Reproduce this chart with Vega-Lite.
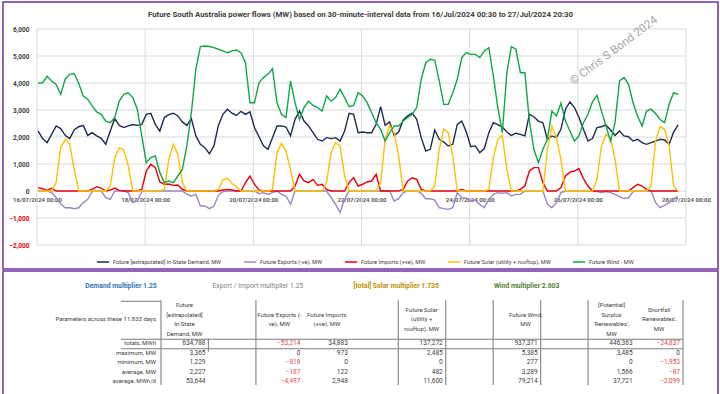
{
  "$schema": "https://vega.github.io/schema/vega-lite/v6.json",
  "padding": {"left": 2, "top": 1, "right": 0, "bottom": 0},
  "background": "white",
  "columns": 1,
  "spacing": 0,
  "config": {"font": "Roboto", "view": {"stroke": null}, "axis": {"grid": false}},
  "datasets": {
    "flows": [
      {"t":"2024-07-16T00:30","d":2220,"e":0,"i":125,"s":0,"w":4000},
      {"t":"2024-07-16T02:30","d":1940,"e":0,"i":85,"s":0,"w":4010},
      {"t":"2024-07-16T04:30","d":1790,"e":0,"i":25,"s":0,"w":4250},
      {"t":"2024-07-16T06:30","d":2100,"e":-60,"i":100,"s":0,"w":4075},
      {"t":"2024-07-16T08:30","d":2410,"e":-250,"i":0,"s":310,"w":3950},
      {"t":"2024-07-16T10:30","d":2310,"e":-470,"i":0,"s":1600,"w":3580},
      {"t":"2024-07-16T12:30","d":2060,"e":-620,"i":0,"s":1915,"w":4140},
      {"t":"2024-07-16T14:30","d":1940,"e":-620,"i":0,"s":1730,"w":4320},
      {"t":"2024-07-16T16:30","d":2260,"e":-655,"i":0,"s":800,"w":4350},
      {"t":"2024-07-16T18:30","d":2380,"e":-620,"i":0,"s":0,"w":3990},
      {"t":"2024-07-16T20:30","d":2430,"e":-430,"i":0,"s":0,"w":3520},
      {"t":"2024-07-16T22:30","d":2060,"e":-310,"i":0,"s":0,"w":3400},
      {"t":"2024-07-17T00:30","d":2160,"e":-25,"i":60,"s":0,"w":3150},
      {"t":"2024-07-17T02:30","d":2040,"e":0,"i":160,"s":0,"w":2930},
      {"t":"2024-07-17T04:30","d":1950,"e":0,"i":110,"s":0,"w":2840},
      {"t":"2024-07-17T06:30","d":1730,"e":-250,"i":0,"s":0,"w":2590},
      {"t":"2024-07-17T08:30","d":2220,"e":-310,"i":35,"s":185,"w":2530},
      {"t":"2024-07-17T10:30","d":2680,"e":0,"i":110,"s":1235,"w":2720},
      {"t":"2024-07-17T12:30","d":2430,"e":0,"i":25,"s":1605,"w":3330},
      {"t":"2024-07-17T14:30","d":2350,"e":0,"i":0,"s":1520,"w":3580},
      {"t":"2024-07-17T16:30","d":2410,"e":-60,"i":0,"s":925,"w":3640},
      {"t":"2024-07-17T18:30","d":2460,"e":-430,"i":0,"s":0,"w":3460},
      {"t":"2024-07-17T20:30","d":2430,"e":-370,"i":0,"s":0,"w":3030},
      {"t":"2024-07-17T22:30","d":2470,"e":-25,"i":60,"s":0,"w":2040},
      {"t":"2024-07-18T00:30","d":2840,"e":0,"i":740,"s":0,"w":1050},
      {"t":"2024-07-18T02:30","d":2880,"e":0,"i":990,"s":0,"w":1235},
      {"t":"2024-07-18T04:30","d":2470,"e":0,"i":865,"s":0,"w":1300},
      {"t":"2024-07-18T06:30","d":2220,"e":0,"i":335,"s":0,"w":680},
      {"t":"2024-07-18T08:30","d":2720,"e":0,"i":250,"s":60,"w":310},
      {"t":"2024-07-18T10:30","d":2830,"e":0,"i":260,"s":1170,"w":370},
      {"t":"2024-07-18T12:30","d":2880,"e":0,"i":210,"s":1730,"w":310},
      {"t":"2024-07-18T14:30","d":2780,"e":0,"i":220,"s":1360,"w":555},
      {"t":"2024-07-18T16:30","d":2560,"e":0,"i":60,"s":310,"w":800},
      {"t":"2024-07-18T18:30","d":2430,"e":-125,"i":0,"s":0,"w":1670},
      {"t":"2024-07-18T20:30","d":2680,"e":-185,"i":0,"s":0,"w":2900},
      {"t":"2024-07-18T22:30","d":2040,"e":-125,"i":0,"s":0,"w":4510},
      {"t":"2024-07-19T00:30","d":1730,"e":-555,"i":0,"s":0,"w":5350},
      {"t":"2024-07-19T02:30","d":1605,"e":-555,"i":0,"s":0,"w":5370},
      {"t":"2024-07-19T04:30","d":1380,"e":-655,"i":0,"s":0,"w":5350},
      {"t":"2024-07-19T06:30","d":1670,"e":-555,"i":0,"s":0,"w":5310},
      {"t":"2024-07-19T08:30","d":2430,"e":-160,"i":0,"s":60,"w":5250},
      {"t":"2024-07-19T10:30","d":2840,"e":-25,"i":35,"s":410,"w":5190},
      {"t":"2024-07-19T12:30","d":3030,"e":0,"i":60,"s":470,"w":5125},
      {"t":"2024-07-19T14:30","d":2880,"e":0,"i":35,"s":285,"w":5190},
      {"t":"2024-07-19T16:30","d":2800,"e":0,"i":0,"s":160,"w":5220},
      {"t":"2024-07-19T18:30","d":2950,"e":0,"i":0,"s":0,"w":5125},
      {"t":"2024-07-19T20:30","d":2840,"e":0,"i":310,"s":0,"w":4750},
      {"t":"2024-07-19T22:30","d":2930,"e":0,"i":555,"s":0,"w":3270},
      {"t":"2024-07-20T00:30","d":2350,"e":0,"i":250,"s":0,"w":3270},
      {"t":"2024-07-20T02:30","d":2010,"e":-100,"i":35,"s":0,"w":4010},
      {"t":"2024-07-20T04:30","d":1670,"e":-60,"i":0,"s":0,"w":4200},
      {"t":"2024-07-20T06:30","d":1545,"e":-125,"i":0,"s":0,"w":4320},
      {"t":"2024-07-20T08:30","d":1975,"e":-60,"i":0,"s":60,"w":4530},
      {"t":"2024-07-20T10:30","d":2410,"e":0,"i":0,"s":1420,"w":3270},
      {"t":"2024-07-20T12:30","d":2410,"e":-125,"i":0,"s":1765,"w":2840},
      {"t":"2024-07-20T14:30","d":2370,"e":-185,"i":0,"s":1480,"w":2720},
      {"t":"2024-07-20T16:30","d":2040,"e":-495,"i":0,"s":800,"w":4075},
      {"t":"2024-07-20T18:30","d":2655,"e":0,"i":185,"s":0,"w":3270},
      {"t":"2024-07-20T20:30","d":2960,"e":0,"i":620,"s":0,"w":2650},
      {"t":"2024-07-20T22:30","d":2590,"e":0,"i":370,"s":0,"w":3090},
      {"t":"2024-07-21T00:30","d":2410,"e":0,"i":310,"s":0,"w":3330},
      {"t":"2024-07-21T02:30","d":2160,"e":0,"i":430,"s":0,"w":3170},
      {"t":"2024-07-21T04:30","d":1915,"e":0,"i":210,"s":0,"w":3090},
      {"t":"2024-07-21T06:30","d":1850,"e":0,"i":250,"s":0,"w":2960},
      {"t":"2024-07-21T08:30","d":1975,"e":0,"i":60,"s":310,"w":3520},
      {"t":"2024-07-21T10:30","d":1940,"e":-250,"i":0,"s":1420,"w":3330},
      {"t":"2024-07-21T12:30","d":1975,"e":-495,"i":0,"s":1790,"w":3460},
      {"t":"2024-07-21T14:30","d":1850,"e":-800,"i":0,"s":1670,"w":3770},
      {"t":"2024-07-21T16:30","d":2220,"e":-310,"i":0,"s":555,"w":3460},
      {"t":"2024-07-21T18:30","d":2880,"e":0,"i":310,"s":0,"w":3120},
      {"t":"2024-07-21T20:30","d":2840,"e":0,"i":490,"s":0,"w":3170},
      {"t":"2024-07-21T22:30","d":2160,"e":0,"i":185,"s":0,"w":3640},
      {"t":"2024-07-22T00:30","d":2185,"e":0,"i":250,"s":0,"w":3520},
      {"t":"2024-07-22T02:30","d":2160,"e":0,"i":335,"s":0,"w":3270},
      {"t":"2024-07-22T04:30","d":2160,"e":0,"i":370,"s":0,"w":2900},
      {"t":"2024-07-22T06:30","d":2470,"e":0,"i":620,"s":0,"w":2530},
      {"t":"2024-07-22T08:30","d":3125,"e":0,"i":0,"s":310,"w":2280},
      {"t":"2024-07-22T10:30","d":2430,"e":0,"i":0,"s":1915,"w":1850},
      {"t":"2024-07-22T12:30","d":2560,"e":0,"i":0,"s":2430,"w":2160},
      {"t":"2024-07-22T14:30","d":2060,"e":-370,"i":0,"s":2160,"w":2410},
      {"t":"2024-07-22T16:30","d":2185,"e":-285,"i":0,"s":1300,"w":2410},
      {"t":"2024-07-22T18:30","d":2630,"e":-60,"i":60,"s":0,"w":2590},
      {"t":"2024-07-22T20:30","d":2780,"e":0,"i":370,"s":0,"w":2720},
      {"t":"2024-07-22T22:30","d":2880,"e":0,"i":490,"s":0,"w":2840},
      {"t":"2024-07-23T00:30","d":2655,"e":0,"i":430,"s":0,"w":3090},
      {"t":"2024-07-23T02:30","d":1975,"e":-85,"i":60,"s":0,"w":4140},
      {"t":"2024-07-23T04:30","d":1480,"e":-285,"i":0,"s":0,"w":4750},
      {"t":"2024-07-23T06:30","d":1545,"e":-285,"i":0,"s":0,"w":4880},
      {"t":"2024-07-23T08:30","d":2260,"e":-335,"i":0,"s":185,"w":4850},
      {"t":"2024-07-23T10:30","d":1915,"e":-620,"i":0,"s":1545,"w":4075},
      {"t":"2024-07-23T12:30","d":1815,"e":-655,"i":0,"s":2285,"w":3210},
      {"t":"2024-07-23T14:30","d":1670,"e":-680,"i":0,"s":2160,"w":3210},
      {"t":"2024-07-23T16:30","d":1730,"e":-620,"i":0,"s":1300,"w":3640},
      {"t":"2024-07-23T18:30","d":2470,"e":-60,"i":0,"s":0,"w":4140},
      {"t":"2024-07-23T20:30","d":2590,"e":-250,"i":60,"s":0,"w":4940},
      {"t":"2024-07-23T22:30","d":2185,"e":-270,"i":0,"s":0,"w":5125},
      {"t":"2024-07-24T00:30","d":1640,"e":-370,"i":0,"s":0,"w":5060},
      {"t":"2024-07-24T02:30","d":1670,"e":-335,"i":0,"s":0,"w":5060},
      {"t":"2024-07-24T04:30","d":1420,"e":-495,"i":0,"s":0,"w":4940},
      {"t":"2024-07-24T06:30","d":1570,"e":-620,"i":0,"s":0,"w":5190},
      {"t":"2024-07-24T08:30","d":2160,"e":-310,"i":0,"s":60,"w":5310},
      {"t":"2024-07-24T10:30","d":2530,"e":-125,"i":0,"s":1235,"w":4260},
      {"t":"2024-07-24T12:30","d":2460,"e":-60,"i":0,"s":1915,"w":3090},
      {"t":"2024-07-24T14:30","d":2370,"e":-85,"i":0,"s":2060,"w":2160},
      {"t":"2024-07-24T16:30","d":2185,"e":-60,"i":0,"s":800,"w":4380},
      {"t":"2024-07-24T18:30","d":2060,"e":-185,"i":0,"s":0,"w":5350},
      {"t":"2024-07-24T20:30","d":2140,"e":-125,"i":0,"s":0,"w":5250},
      {"t":"2024-07-24T22:30","d":2100,"e":-125,"i":60,"s":0,"w":4380},
      {"t":"2024-07-25T00:30","d":2040,"e":0,"i":185,"s":0,"w":4380},
      {"t":"2024-07-25T02:30","d":2840,"e":0,"i":740,"s":0,"w":2590},
      {"t":"2024-07-25T04:30","d":2750,"e":0,"i":865,"s":0,"w":1545},
      {"t":"2024-07-25T06:30","d":2590,"e":0,"i":865,"s":0,"w":1050},
      {"t":"2024-07-25T08:30","d":2530,"e":0,"i":310,"s":0,"w":1545},
      {"t":"2024-07-25T10:30","d":1915,"e":-495,"i":0,"s":1545,"w":1915},
      {"t":"2024-07-25T12:30","d":2040,"e":-620,"i":0,"s":2410,"w":2960},
      {"t":"2024-07-25T14:30","d":1975,"e":-430,"i":0,"s":1975,"w":2780},
      {"t":"2024-07-25T16:30","d":2285,"e":-60,"i":125,"s":1170,"w":3250},
      {"t":"2024-07-25T18:30","d":3030,"e":0,"i":555,"s":0,"w":2590},
      {"t":"2024-07-25T20:30","d":3300,"e":0,"i":700,"s":0,"w":2220},
      {"t":"2024-07-25T22:30","d":3090,"e":0,"i":740,"s":0,"w":1850},
      {"t":"2024-07-26T00:30","d":2720,"e":0,"i":830,"s":0,"w":2040},
      {"t":"2024-07-26T02:30","d":2285,"e":0,"i":460,"s":0,"w":2530},
      {"t":"2024-07-26T04:30","d":1850,"e":0,"i":185,"s":0,"w":2840},
      {"t":"2024-07-26T06:30","d":1940,"e":0,"i":0,"s":0,"w":3300},
      {"t":"2024-07-26T08:30","d":2350,"e":-25,"i":0,"s":430,"w":3540},
      {"t":"2024-07-26T10:30","d":2380,"e":-60,"i":0,"s":1670,"w":2960},
      {"t":"2024-07-26T12:30","d":2445,"e":-25,"i":0,"s":2100,"w":2410},
      {"t":"2024-07-26T14:30","d":2260,"e":-60,"i":0,"s":1975,"w":1850},
      {"t":"2024-07-26T16:30","d":2060,"e":-125,"i":0,"s":1170,"w":2530},
      {"t":"2024-07-26T18:30","d":2220,"e":-220,"i":0,"s":0,"w":4075},
      {"t":"2024-07-26T20:30","d":2040,"e":-280,"i":0,"s":0,"w":4200},
      {"t":"2024-07-26T22:30","d":2010,"e":-250,"i":0,"s":0,"w":3950},
      {"t":"2024-07-27T00:30","d":1850,"e":-25,"i":125,"s":0,"w":3270},
      {"t":"2024-07-27T02:30","d":1915,"e":0,"i":250,"s":0,"w":2780},
      {"t":"2024-07-27T04:30","d":1790,"e":0,"i":185,"s":0,"w":2410},
      {"t":"2024-07-27T06:30","d":1730,"e":0,"i":60,"s":0,"w":2960},
      {"t":"2024-07-27T08:30","d":1790,"e":0,"i":0,"s":185,"w":3030},
      {"t":"2024-07-27T10:30","d":1850,"e":-430,"i":0,"s":1850,"w":2870},
      {"t":"2024-07-27T12:30","d":1915,"e":-620,"i":0,"s":2385,"w":2650},
      {"t":"2024-07-27T14:30","d":1890,"e":-530,"i":0,"s":2285,"w":2530},
      {"t":"2024-07-27T16:30","d":1730,"e":-430,"i":0,"s":1670,"w":3210},
      {"t":"2024-07-27T18:30","d":2185,"e":-285,"i":0,"s":185,"w":3640},
      {"t":"2024-07-27T20:30","d":2445,"e":-210,"i":0,"s":0,"w":3580}
    ],
    "ygrid": [{"g":-2000},{"g":-1000},{"g":0},{"g":1000},{"g":2000},{"g":3000},{"g":4000},{"g":5000},{"g":6000}],
    "xgrid": [{"g":"2024-07-16T00:00"},{"g":"2024-07-18T00:00"},{"g":"2024-07-20T00:00"},{"g":"2024-07-22T00:00"},{"g":"2024-07-24T00:00"},{"g":"2024-07-26T00:00"},{"g":"2024-07-28T00:00"}],
    "cells": [
      {"c":"demand","r":"totals","v":634788},{"c":"demand","r":"maximum","v":3365},{"c":"demand","r":"minimum","v":1229},{"c":"demand","r":"avgMW","v":2227},{"c":"demand","r":"avgMWhd","v":53644},
      {"c":"exports","r":"totals","v":-53214},{"c":"exports","r":"maximum","v":0},{"c":"exports","r":"minimum","v":-818},{"c":"exports","r":"avgMW","v":-187},{"c":"exports","r":"avgMWhd","v":-4497},
      {"c":"imports","r":"totals","v":34883},{"c":"imports","r":"maximum","v":973},{"c":"imports","r":"minimum","v":0},{"c":"imports","r":"avgMW","v":122},{"c":"imports","r":"avgMWhd","v":2948},
      {"c":"solar","r":"totals","v":137272},{"c":"solar","r":"maximum","v":2485},{"c":"solar","r":"minimum","v":0},{"c":"solar","r":"avgMW","v":482},{"c":"solar","r":"avgMWhd","v":11600},
      {"c":"wind","r":"totals","v":937371},{"c":"wind","r":"maximum","v":5385},{"c":"wind","r":"minimum","v":277},{"c":"wind","r":"avgMW","v":3289},{"c":"wind","r":"avgMWhd","v":79214},
      {"c":"surplus","r":"totals","v":446363},{"c":"surplus","r":"maximum","v":3485},{"c":"surplus","r":"minimum","v":0},{"c":"surplus","r":"avgMW","v":1566},{"c":"surplus","r":"avgMWhd","v":37721},
      {"c":"shortfall","r":"totals","v":-24837},{"c":"shortfall","r":"maximum","v":0},{"c":"shortfall","r":"minimum","v":-1953},{"c":"shortfall","r":"avgMW","v":-87},{"c":"shortfall","r":"avgMWhd","v":-2099}
    ],
    "headers": [
      {"c":"demand","r":"L1","h":"Future"},
      {"c":"demand","r":"L3","h":"[extrapolated]"},
      {"c":"demand","r":"L5","h":"In-State"},
      {"c":"demand","r":"L7","h":"Demand, MW"},
      {"c":"exports","r":"L3","h":"Future Exports (-"},
      {"c":"exports","r":"L5","h":"ve), MW"},
      {"c":"imports","r":"L3","h":"Future Imports"},
      {"c":"imports","r":"L5","h":"(+ve), MW"},
      {"c":"solar","r":"L2","h":"Future Solar"},
      {"c":"solar","r":"L4","h":"(utility +"},
      {"c":"solar","r":"L6","h":"rooftop), MW"},
      {"c":"wind","r":"L3","h":"Future Wind,"},
      {"c":"wind","r":"L5","h":"MW"},
      {"c":"surplus","r":"L1","h":"[Potential]"},
      {"c":"surplus","r":"L3","h":"Surplus"},
      {"c":"surplus","r":"L5","h":"'Renewables',"},
      {"c":"surplus","r":"L7","h":"MW"},
      {"c":"shortfall","r":"L2","h":"Shortfall"},
      {"c":"shortfall","r":"L4","h":"'Renewables',"},
      {"c":"shortfall","r":"L6","h":"MW"}
    ],
    "rowlabels": [
      {"c":"label","r":"L4","h":"Parameters across these 11.833 days"},
      {"c":"label","r":"totals","h":"totals, MWh"},
      {"c":"label","r":"maximum","h":"maximum, MW"},
      {"c":"label","r":"minimum","h":"minimum, MW"},
      {"c":"label","r":"avgMW","h":"average, MW"},
      {"c":"label","r":"avgMWhd","h":"average, MWh/d"}
    ],
    "mults": [
      {"k":"demand","c":"label","r":"mult","h":"Demand multiplier 1.25"},
      {"k":"trade","c":"g1","r":"mult","h":"Export / Import multiplier 1.25"},
      {"k":"solar","c":"g2","r":"mult","h":"[total] Solar multiplier 1.735"},
      {"k":"wind","c":"wind","r":"mult","h":"Wind multiplier 2.603"}
    ],
    "vrules": [
      {"c":"label","top":"s3","bottom":"avgMWhd"},
      {"c":"demand","top":"s10","bottom":"s11"},
      {"c":"g1","top":"s3","bottom":"avgMWhd"},
      {"c":"g2","top":"s3","bottom":"avgMWhd"},
      {"c":"solar","top":"s3","bottom":"avgMWhd"},
      {"c":"g3","top":"s3","bottom":"avgMWhd"},
      {"c":"wind","top":"s3","bottom":"avgMWhd"},
      {"c":"g4","top":"s3","bottom":"avgMWhd"},
      {"c":"shortfall","top":"s3","bottom":"avgMWhd"}
    ],
    "hrules": [
      {"r":"s3","c1":"label","c2":"label"},
      {"r":"s10","c1":"label","c2":"shortfall"},
      {"r":"s11","c1":"label","c2":"shortfall"}
    ]
  },
  "concat": [
    {
      "width": 715,
      "height": 267,
      "title": {"text": "Future South Australia power flows (MW) based on 30-minute-interval data from 16/Jul/2024 00:30 to 27/Jul/2024 20:30", "fontSize": 7.8, "fontWeight": "bold", "color": "#404040", "offset": -17, "anchor": "middle"},
      "view": {"stroke": "#7030a0", "strokeWidth": 1.5},
      "layer": [
        {
          "data": {"name": "ygrid"},
          "mark": {"type": "rule", "color": "#d9d9d9", "strokeWidth": 1},
          "encoding": {
            "y": {"field": "g", "type": "quantitative",
              "scale": {"domain": [-2000, 6000], "range": [243, 27], "nice": false, "zero": false},
              "axis": {"values": [-2000, -1000, 0, 1000, 2000, 3000, 4000, 5000, 6000], "format": ",.0f", "labelFontSize": 6.5, "labelFontWeight": "bold", "labelColor": {"condition": {"test": "datum.value < 0", "value": "#e00000"}, "value": "#404040"}, "grid": false, "ticks": false, "domain": false, "labelPadding": 8, "offset": -34, "title": null}},
            "x": {"datum": {"year": 2024, "month": 7, "date": 16}, "type": "temporal",
              "scale": {"domain": [{"year": 2024, "month": 7, "date": 16}, {"year": 2024, "month": 7, "date": 28}], "range": [34, 683], "nice": false},
              "axis": {"values": [{"year": 2024, "month": 7, "date": 16}, {"year": 2024, "month": 7, "date": 18}, {"year": 2024, "month": 7, "date": 20}, {"year": 2024, "month": 7, "date": 22}, {"year": 2024, "month": 7, "date": 24}, {"year": 2024, "month": 7, "date": 26}, {"year": 2024, "month": 7, "date": 28}], "format": "%d/%m/%Y %H:%M", "labelFontSize": 6, "labelFontWeight": "bold", "labelColor": "#595959", "grid": false, "ticks": false, "domain": false, "offset": -78, "labelPadding": 5, "title": null, "labelOverlap": false, "labelFlush": false}},
            "x2": {"datum": {"year": 2024, "month": 7, "date": 28}}
          }
        },
        {
          "data": {"name": "xgrid"},
          "mark": {"type": "rule", "color": "#d9d9d9", "strokeWidth": 1},
          "encoding": {
            "x": {"field": "g", "type": "temporal",
              "scale": {"domain": [{"year": 2024, "month": 7, "date": 16}, {"year": 2024, "month": 7, "date": 28}], "range": [34, 683], "nice": false},
              "axis": {"values": [{"year": 2024, "month": 7, "date": 16}, {"year": 2024, "month": 7, "date": 18}, {"year": 2024, "month": 7, "date": 20}, {"year": 2024, "month": 7, "date": 22}, {"year": 2024, "month": 7, "date": 24}, {"year": 2024, "month": 7, "date": 26}, {"year": 2024, "month": 7, "date": 28}], "format": "%d/%m/%Y %H:%M", "labelFontSize": 6, "labelFontWeight": "bold", "labelColor": "#595959", "grid": false, "ticks": false, "domain": false, "offset": -78, "labelPadding": 5, "title": null, "labelOverlap": false, "labelFlush": false}},
            "y": {"datum": -2000, "type": "quantitative",
              "scale": {"domain": [-2000, 6000], "range": [243, 27], "nice": false, "zero": false},
              "axis": {"values": [-2000, -1000, 0, 1000, 2000, 3000, 4000, 5000, 6000], "format": ",.0f", "labelFontSize": 6.5, "labelFontWeight": "bold", "labelColor": {"condition": {"test": "datum.value < 0", "value": "#e00000"}, "value": "#404040"}, "grid": false, "ticks": false, "domain": false, "labelPadding": 8, "offset": -34, "title": null}},
            "y2": {"datum": 6000}
          }
        },
        {
          "data": {"values": [{}]},
          "mark": {"type": "text", "text": "© Chris S Bond  2024", "angle": -37, "fontSize": 11.5, "color": "#a6a6a6", "align": "center", "baseline": "middle"},
          "encoding": {
            "x": {"datum": {"year": 2024, "month": 7, "date": 26, "hours": 16}, "type": "temporal",
              "scale": {"domain": [{"year": 2024, "month": 7, "date": 16}, {"year": 2024, "month": 7, "date": 28}], "range": [34, 683], "nice": false},
              "axis": {"values": [{"year": 2024, "month": 7, "date": 16}, {"year": 2024, "month": 7, "date": 18}, {"year": 2024, "month": 7, "date": 20}, {"year": 2024, "month": 7, "date": 22}, {"year": 2024, "month": 7, "date": 24}, {"year": 2024, "month": 7, "date": 26}, {"year": 2024, "month": 7, "date": 28}], "format": "%d/%m/%Y %H:%M", "labelFontSize": 6, "labelFontWeight": "bold", "labelColor": "#595959", "grid": false, "ticks": false, "domain": false, "offset": -78, "labelPadding": 5, "title": null, "labelOverlap": false, "labelFlush": false}},
            "y": {"datum": 5185, "type": "quantitative",
              "scale": {"domain": [-2000, 6000], "range": [243, 27], "nice": false, "zero": false},
              "axis": {"values": [-2000, -1000, 0, 1000, 2000, 3000, 4000, 5000, 6000], "format": ",.0f", "labelFontSize": 6.5, "labelFontWeight": "bold", "labelColor": {"condition": {"test": "datum.value < 0", "value": "#e00000"}, "value": "#404040"}, "grid": false, "ticks": false, "domain": false, "labelPadding": 8, "offset": -34, "title": null}}
          }
        },
        {
          "data": {"name": "flows"},
          "transform": [{"fold": ["d", "e", "i", "s", "w"], "as": ["series", "mw"]}],
          "mark": {"type": "line", "strokeWidth": 1.4},
          "encoding": {
            "x": {"field": "t", "type": "temporal",
              "scale": {"domain": [{"year": 2024, "month": 7, "date": 16}, {"year": 2024, "month": 7, "date": 28}], "range": [34, 683], "nice": false},
              "axis": {"values": [{"year": 2024, "month": 7, "date": 16}, {"year": 2024, "month": 7, "date": 18}, {"year": 2024, "month": 7, "date": 20}, {"year": 2024, "month": 7, "date": 22}, {"year": 2024, "month": 7, "date": 24}, {"year": 2024, "month": 7, "date": 26}, {"year": 2024, "month": 7, "date": 28}], "format": "%d/%m/%Y %H:%M", "labelFontSize": 6, "labelFontWeight": "bold", "labelColor": "#595959", "grid": false, "ticks": false, "domain": false, "offset": -78, "labelPadding": 5, "title": null, "labelOverlap": false, "labelFlush": false}},
            "y": {"field": "mw", "type": "quantitative",
              "scale": {"domain": [-2000, 6000], "range": [243, 27], "nice": false, "zero": false},
              "axis": {"values": [-2000, -1000, 0, 1000, 2000, 3000, 4000, 5000, 6000], "format": ",.0f", "labelFontSize": 6.5, "labelFontWeight": "bold", "labelColor": {"condition": {"test": "datum.value < 0", "value": "#e00000"}, "value": "#404040"}, "grid": false, "ticks": false, "domain": false, "labelPadding": 8, "offset": -34, "title": null}},
            "color": {
              "field": "series", "type": "nominal",
              "scale": {"domain": ["d", "e", "i", "s", "w"], "range": ["#1c2b4e", "#9f86c0", "#e8000b", "#ffc000", "#10a64a"]},
              "legend": {
                "orient": "none", "legendX": 93, "legendY": 253, "direction": "horizontal", "columns": 5,
                "title": null, "symbolType": "stroke", "symbolStrokeWidth": 1.5, "symbolSize": 150,
                "labelFontSize": 5.7, "labelColor": "#404040", "labelLimit": 250, "columnPadding": 18, "padding": 0, "labelOffset": 3,
                "labelExpr": "datum.label == 'd' ? 'Future [extrapolated] In-State Demand, MW' : datum.label == 'e' ? 'Future Exports (-ve), MW' : datum.label == 'i' ? 'Future Imports (+ve), MW' : datum.label == 's' ? 'Future Solar (utility + rooftop), MW' : 'Future Wind -  MW'"
              }
            }
          }
        }
      ]
    },
    {
      "width": 715,
      "height": 124,
      "view": {"stroke": "#7030a0", "strokeWidth": 1.5},
      "layer": [
        {
          "data": {"name": "hrules"},
          "mark": {"type": "rule", "color": "#595959", "strokeWidth": 0.8, "xOffset": -37, "x2Offset": 3, "yOffset": 1},
          "encoding": {
            "x": {"field": "c1", "type": "nominal", "scale": {"type": "point", "domain": ["label","demand","g1","exports","imports","g2","solar","g3","wind","g4","surplus","shortfall"], "range": [155, 677], "padding": 0}, "axis": null},
            "x2": {"field": "c2"},
            "y": {"field": "r", "type": "nominal", "scale": {"type": "point", "domain": ["mult","s1","s2","s3","L1","L2","L3","L4","L5","L6","L7","s10","totals","s11","maximum","s12","minimum","s13","avgMW","s14","avgMWhd"], "range": [15, 110], "padding": 0}, "axis": null}
          }
        },
        {
          "data": {"name": "vrules"},
          "mark": {"type": "rule", "color": "#8c8c8c", "strokeWidth": 1.2, "xOffset": 3, "y2Offset": 4},
          "encoding": {
            "x": {"field": "c", "type": "nominal", "scale": {"type": "point", "domain": ["label","demand","g1","exports","imports","g2","solar","g3","wind","g4","surplus","shortfall"], "range": [155, 677], "padding": 0}, "axis": null},
            "y": {"field": "top", "type": "nominal", "scale": {"type": "point", "domain": ["mult","s1","s2","s3","L1","L2","L3","L4","L5","L6","L7","s10","totals","s11","maximum","s12","minimum","s13","avgMW","s14","avgMWhd"], "range": [15, 110], "padding": 0}, "axis": null},
            "y2": {"field": "bottom"}
          }
        },
        {
          "data": {"name": "cells"},
          "mark": {"type": "text", "align": "right", "baseline": "middle", "fontSize": 6.5},
          "encoding": {
            "x": {"field": "c", "type": "nominal", "scale": {"type": "point", "domain": ["label","demand","g1","exports","imports","g2","solar","g3","wind","g4","surplus","shortfall"], "range": [155, 677], "padding": 0}, "axis": null},
            "y": {"field": "r", "type": "nominal", "scale": {"type": "point", "domain": ["mult","s1","s2","s3","L1","L2","L3","L4","L5","L6","L7","s10","totals","s11","maximum","s12","minimum","s13","avgMW","s14","avgMWhd"], "range": [15, 110], "padding": 0}, "axis": null},
            "text": {"field": "v", "type": "quantitative", "format": ",.0f"},
            "color": {"condition": {"test": "datum.v < 0", "value": "#e04848"}, "value": "#404040"}
          }
        },
        {
          "data": {"name": "headers"},
          "transform": [{"filter": "datum.c != 'wind'"}],
          "mark": {"type": "text", "align": "center", "baseline": "middle", "fontSize": 6, "dx": -21, "color": "#404040"},
          "encoding": {
            "x": {"field": "c", "type": "nominal", "scale": {"type": "point", "domain": ["label","demand","g1","exports","imports","g2","solar","g3","wind","g4","surplus","shortfall"], "range": [155, 677], "padding": 0}, "axis": null},
            "y": {"field": "r", "type": "nominal", "scale": {"type": "point", "domain": ["mult","s1","s2","s3","L1","L2","L3","L4","L5","L6","L7","s10","totals","s11","maximum","s12","minimum","s13","avgMW","s14","avgMWhd"], "range": [15, 110], "padding": 0}, "axis": null},
            "text": {"field": "h", "type": "nominal"}
          }
        },
        {
          "data": {"name": "headers"},
          "transform": [{"filter": "datum.c == 'wind'"}],
          "mark": {"type": "text", "align": "center", "baseline": "middle", "fontSize": 6, "dx": -12, "color": "#404040"},
          "encoding": {
            "x": {"field": "c", "type": "nominal", "scale": {"type": "point", "domain": ["label","demand","g1","exports","imports","g2","solar","g3","wind","g4","surplus","shortfall"], "range": [155, 677], "padding": 0}, "axis": null},
            "y": {"field": "r", "type": "nominal", "scale": {"type": "point", "domain": ["mult","s1","s2","s3","L1","L2","L3","L4","L5","L6","L7","s10","totals","s11","maximum","s12","minimum","s13","avgMW","s14","avgMWhd"], "range": [15, 110], "padding": 0}, "axis": null},
            "text": {"field": "h", "type": "nominal"}
          }
        },
        {
          "data": {"name": "rowlabels"},
          "mark": {"type": "text", "align": "right", "baseline": "middle", "fontSize": 6, "dx": -2, "color": "#404040"},
          "encoding": {
            "x": {"field": "c", "type": "nominal", "scale": {"type": "point", "domain": ["label","demand","g1","exports","imports","g2","solar","g3","wind","g4","surplus","shortfall"], "range": [155, 677], "padding": 0}, "axis": null},
            "y": {"field": "r", "type": "nominal", "scale": {"type": "point", "domain": ["mult","s1","s2","s3","L1","L2","L3","L4","L5","L6","L7","s10","totals","s11","maximum","s12","minimum","s13","avgMW","s14","avgMWhd"], "range": [15, 110], "padding": 0}, "axis": null},
            "text": {"field": "h", "type": "nominal"}
          }
        },
        {
          "data": {"name": "mults"},
          "transform": [{"filter": "datum.k == 'demand'"}],
          "mark": {"type": "text", "align": "center", "baseline": "middle", "fontSize": 6.8, "fontWeight": "bold", "dx": -37, "color": "#2e75b6"},
          "encoding": {
            "x": {"field": "c", "type": "nominal", "scale": {"type": "point", "domain": ["label","demand","g1","exports","imports","g2","solar","g3","wind","g4","surplus","shortfall"], "range": [155, 677], "padding": 0}, "axis": null},
            "y": {"field": "r", "type": "nominal", "scale": {"type": "point", "domain": ["mult","s1","s2","s3","L1","L2","L3","L4","L5","L6","L7","s10","totals","s11","maximum","s12","minimum","s13","avgMW","s14","avgMWhd"], "range": [15, 110], "padding": 0}, "axis": null},
            "text": {"field": "h", "type": "nominal"}
          }
        },
        {
          "data": {"name": "mults"},
          "transform": [{"filter": "datum.k == 'trade'"}],
          "mark": {"type": "text", "align": "center", "baseline": "middle", "fontSize": 6.8, "dx": 5, "color": "#7f7f7f"},
          "encoding": {
            "x": {"field": "c", "type": "nominal", "scale": {"type": "point", "domain": ["label","demand","g1","exports","imports","g2","solar","g3","wind","g4","surplus","shortfall"], "range": [155, 677], "padding": 0}, "axis": null},
            "y": {"field": "r", "type": "nominal", "scale": {"type": "point", "domain": ["mult","s1","s2","s3","L1","L2","L3","L4","L5","L6","L7","s10","totals","s11","maximum","s12","minimum","s13","avgMW","s14","avgMWhd"], "range": [15, 110], "padding": 0}, "axis": null},
            "text": {"field": "h", "type": "nominal"}
          }
        },
        {
          "data": {"name": "mults"},
          "transform": [{"filter": "datum.k == 'solar'"}],
          "mark": {"type": "text", "align": "center", "baseline": "middle", "fontSize": 6.8, "fontWeight": "bold", "dx": 1, "color": "#bf9000"},
          "encoding": {
            "x": {"field": "c", "type": "nominal", "scale": {"type": "point", "domain": ["label","demand","g1","exports","imports","g2","solar","g3","wind","g4","surplus","shortfall"], "range": [155, 677], "padding": 0}, "axis": null},
            "y": {"field": "r", "type": "nominal", "scale": {"type": "point", "domain": ["mult","s1","s2","s3","L1","L2","L3","L4","L5","L6","L7","s10","totals","s11","maximum","s12","minimum","s13","avgMW","s14","avgMWhd"], "range": [15, 110], "padding": 0}, "axis": null},
            "text": {"field": "h", "type": "nominal"}
          }
        },
        {
          "data": {"name": "mults"},
          "transform": [{"filter": "datum.k == 'wind'"}],
          "mark": {"type": "text", "align": "center", "baseline": "middle", "fontSize": 6.8, "fontWeight": "bold", "dx": -11, "color": "#548235"},
          "encoding": {
            "x": {"field": "c", "type": "nominal", "scale": {"type": "point", "domain": ["label","demand","g1","exports","imports","g2","solar","g3","wind","g4","surplus","shortfall"], "range": [155, 677], "padding": 0}, "axis": null},
            "y": {"field": "r", "type": "nominal", "scale": {"type": "point", "domain": ["mult","s1","s2","s3","L1","L2","L3","L4","L5","L6","L7","s10","totals","s11","maximum","s12","minimum","s13","avgMW","s14","avgMWhd"], "range": [15, 110], "padding": 0}, "axis": null},
            "text": {"field": "h", "type": "nominal"}
          }
        }
      ]
    }
  ]
}
